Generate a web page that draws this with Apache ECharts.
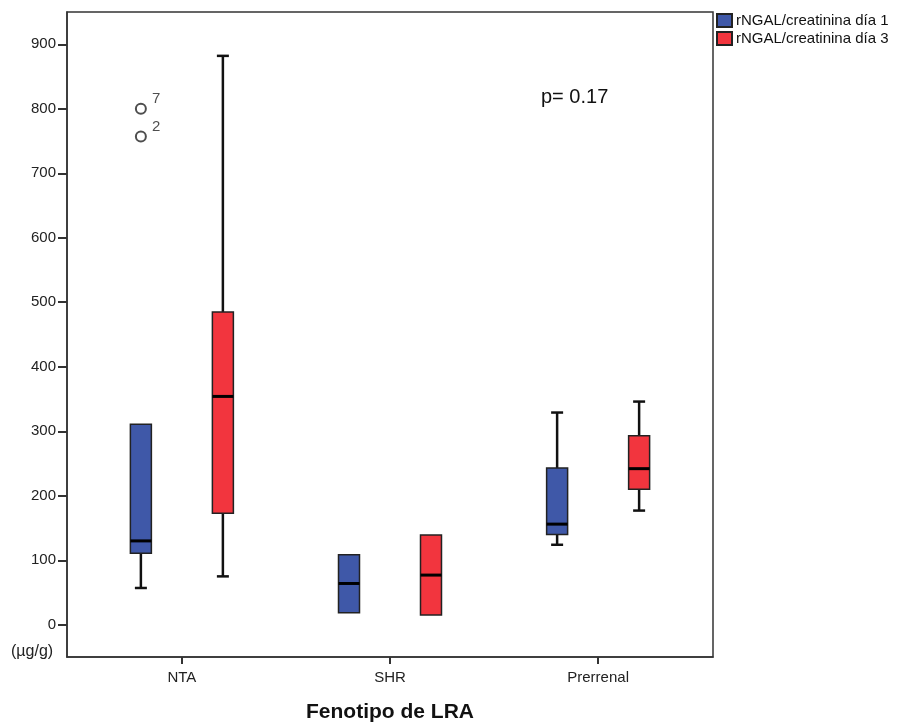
<!DOCTYPE html>
<html>
<head>
<meta charset="utf-8">
<script src="https://cdn.jsdelivr.net/npm/echarts@6/dist/echarts.min.js"></script>
<style>
  html, body { margin: 0; padding: 0; background: #fff; }
  #chart { width: 905px; height: 728px; }
</style>
</head>
<body>
<div id="chart"></div>
<script>
// categorias y datos (min, q1, mediana, q3, max)
const categories = ['NTA', 'SHR', 'Prerrenal'];
const yTicks = [0, 100, 200, 300, 400, 500, 600, 700, 800, 900];
const dia1 = [
  [57, 111, 130, 311, 311],
  [18.5, 18.5, 64, 108.5, 108.5],
  [124, 140, 156, 243, 329]
];
const dia3 = [
  [75, 173, 354, 485, 882],
  [15, 15, 77, 139, 139],
  [177, 210, 242, 293, 346]
];
// atipicos: [categoria, valor, caso]
const outliers1 = [[0, 757, '2'], [0, 800, '7']];

const font = 'Liberation Sans, Arial, sans-serif';
const blue = '#3f58a8';
const red = '#f2353e';
const offset = 0.197;

function boxData(rows, off) {
  return rows.map((r, i) => [i, off].concat(r));
}

function renderBox(params, api) {
  const x = api.value(0) + api.value(1);
  const pMin = api.coord([x, api.value(2)]);
  const pQ1 = api.coord([x, api.value(3)]);
  const pMed = api.coord([x, api.value(4)]);
  const pQ3 = api.coord([x, api.value(5)]);
  const pMax = api.coord([x, api.value(6)]);
  const cx = pMed[0];
  const half = 10.5, cap = 6;
  const line = { stroke: '#111', lineWidth: 2.5 };
  const kids = [];
  if (api.value(2) < api.value(3)) {
    kids.push({ type: 'line', shape: { x1: cx, y1: pQ1[1], x2: cx, y2: pMin[1] }, style: line });
    kids.push({ type: 'line', shape: { x1: cx - cap, y1: pMin[1], x2: cx + cap, y2: pMin[1] }, style: line });
  }
  if (api.value(6) > api.value(5)) {
    kids.push({ type: 'line', shape: { x1: cx, y1: pQ3[1], x2: cx, y2: pMax[1] }, style: line });
    kids.push({ type: 'line', shape: { x1: cx - cap, y1: pMax[1], x2: cx + cap, y2: pMax[1] }, style: line });
  }
  kids.push({
    type: 'rect',
    shape: { x: cx - half, y: pQ3[1], width: half * 2, height: pQ1[1] - pQ3[1] },
    style: { fill: api.visual('color'), stroke: '#222', lineWidth: 1.5 }
  });
  kids.push({ type: 'line', shape: { x1: cx - half, y1: pMed[1], x2: cx + half, y2: pMed[1] }, style: { stroke: '#000', lineWidth: 3 } });
  return { type: 'group', children: kids };
}

const chart = echarts.init(document.getElementById('chart'));
chart.setOption({
  animation: false,
  backgroundColor: '#fff',
  textStyle: { fontFamily: font },
  grid: { left: 67, top: 12, right: 192, bottom: 69, show: true, borderColor: '#333', borderWidth: 1.5 },
  legend: {
    data: ['rNGAL/creatinina día 1', 'rNGAL/creatinina día 3'],
    orient: 'vertical',
    left: 716, top: 13,
    padding: 0,
    itemWidth: 15, itemHeight: 13, itemGap: 3,
    icon: 'rect',
    textStyle: { fontSize: 15, color: '#111', fontFamily: font, padding: [0, 0, 0, -1] }
  },
  xAxis: {
    type: 'value',
    min: -0.552, max: 2.552,
    splitLine: { show: false },
    axisLine: { onZero: false, lineStyle: { color: '#333', width: 1.5 } },
    axisTick: { customValues: [0, 1, 2], length: 7, lineStyle: { color: '#333', width: 2 } },
    axisLabel: {
      customValues: [0, 1, 2],
      formatter: v => categories[Math.round(v)],
      fontSize: 15, color: '#222', margin: 13
    },
    name: 'Fenotipo de LRA',
    nameLocation: 'middle',
    nameGap: 45,
    nameTextStyle: { fontSize: 21, fontWeight: 'bold', color: '#111', fontFamily: font }
  },
  yAxis: {
    type: 'value',
    min: -50, max: 950, interval: 50,
    splitLine: { show: false },
    axisLine: { show: true, onZero: false, lineStyle: { color: '#333', width: 1.5 } },
    axisTick: { show: true, customValues: yTicks, length: 9, lineStyle: { color: '#333', width: 2 } },
    axisLabel: { customValues: yTicks, fontSize: 15, color: '#222', margin: 11 }
  },
  graphic: [
    { type: 'text', left: 541, top: 87, style: { text: 'p= 0.17', font: '20px ' + font, fill: '#111' } },
    { type: 'text', left: 11, top: 644, style: { text: '(µg/g)', font: '16px ' + font, fill: '#222' } }
  ],
  series: [
    {
      name: 'rNGAL/creatinina día 1',
      type: 'custom',
      renderItem: renderBox,
      itemStyle: { color: blue, borderColor: '#222', borderWidth: 1 },
      encode: { x: [0], y: [2, 3, 4, 5, 6] },
      data: boxData(dia1, -offset)
    },
    {
      name: 'rNGAL/creatinina día 3',
      type: 'custom',
      renderItem: renderBox,
      itemStyle: { color: red, borderColor: '#222', borderWidth: 1 },
      encode: { x: [0], y: [2, 3, 4, 5, 6] },
      data: boxData(dia3, offset)
    },
    {
      name: 'atipicos',
      type: 'scatter',
      symbol: 'emptyCircle',
      symbolSize: 10,
      itemStyle: { color: '#222', borderWidth: 1.8 },
      data: outliers1.map(o => [o[0] - offset, o[1], o[2]]),
      label: {
        show: true,
        position: 'right',
        offset: [0, -10],
        formatter: p => p.data[2],
        fontSize: 15, color: '#222', fontFamily: font
      }
    }
  ]
});
</script>
</body>
</html>
